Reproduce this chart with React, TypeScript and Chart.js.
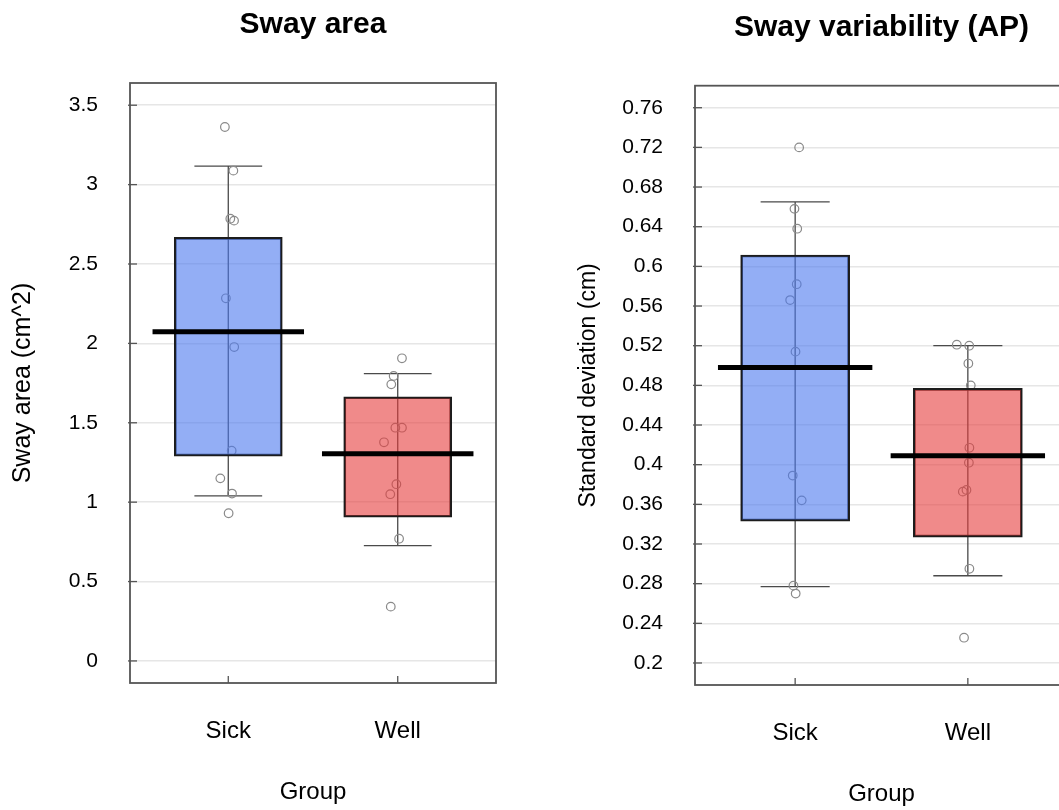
import React, { useEffect, useRef } from 'react';
import { Chart, registerables } from 'chart.js';

Chart.register(...registerables);

const FONT = '"Liberation Sans", Arial, Helvetica, sans-serif';

// ---------- data ----------
const groups = ['Sick', 'Well'];

// Left panel: Sway area
const areaTicks = [0, 0.5, 1, 1.5, 2, 2.5, 3, 3.5];
const areaTickLabels = ['0', '0.5', '1', '1.5', '2', '2.5', '3', '3.5'];
const areaBoxLow = [1.29, 0.905];
const areaBoxHigh = [2.668, 1.664];
const areaMean = [2.074, 1.305];
const areaWhiskerLow = [1.039, 0.726];
const areaWhiskerHigh = [3.117, 1.809];
const areaSick = [3.363, 3.088, 2.785, 2.773, 2.284, 1.977, 1.324, 1.15, 1.054, 0.93];
const areaSickJitter = [-0.02, 0.03, 0.012, 0.034, -0.014, 0.035, 0.02, -0.047, 0.022, 0.002];
const areaWell = [1.906, 1.795, 1.742, 1.469, 1.469, 1.377, 1.113, 1.05, 0.77, 0.342];
const areaWellJitter = [0.025, -0.024, -0.038, -0.014, 0.025, -0.081, -0.008, -0.044, 0.008, -0.041];

// Right panel: Sway variability (AP)
const sdTicks = [0.2, 0.24, 0.28, 0.32, 0.36, 0.4, 0.44, 0.48, 0.52, 0.56, 0.6, 0.64, 0.68, 0.72, 0.76];
const sdTickLabels = ['0.2', '0.24', '0.28', '0.32', '0.36', '0.4', '0.44', '0.48', '0.52', '0.56', '0.6', '0.64', '0.68', '0.72', '0.76'];
const sdBoxLow = [0.343, 0.327];
const sdBoxHigh = [0.6115, 0.477];
const sdMean = [0.498, 0.409];
const sdWhiskerLow = [0.277, 0.288];
const sdWhiskerHigh = [0.665, 0.52];
const sdSick = [0.72, 0.658, 0.638, 0.582, 0.566, 0.514, 0.389, 0.364, 0.278, 0.27];
const sdSickJitter = [0.023, -0.004, 0.012, 0.009, -0.029, 0.002, -0.014, 0.038, -0.01, 0.003];
const sdWell = [0.521, 0.52, 0.502, 0.48, 0.417, 0.402, 0.3745, 0.3728, 0.295, 0.2255];
const sdWellJitter = [-0.064, 0.008, 0.003, 0.017, 0.009, 0.006, -0.008, -0.029, 0.009, -0.022];

// ---------- styling ----------
const BOX_COLORS = ['rgba(75,120,238,0.6)', 'rgba(230,60,60,0.6)'];
const MEAN_HALF = 0.447;
const CAP_HALF = 0.2;

type Panel = {
  title: string;
  yTitle: string;
  yMin: number;
  yMax: number;
  ticks: number[];
  tickLabels: string[];
  boxLow: number[];
  boxHigh: number[];
  mean: number[];
  wLow: number[];
  wHigh: number[];
  points: number[][];
  jitter: number[][];
  canvasW: number;
  yAxisWidth: number;
  rightPad: number;
  titlePadTop: number;
  titlePadBottom: number;
  xAxisHeight: number;
  yTitleSize: number;
  yTitlePad: number;
  xTickPad: number;
  xTitlePad: number;
  barThickness: number;
};

const panels: Panel[] = [
  {
    title: 'Sway area',
    yTitle: 'Sway area (cm^2)',
    yMin: -0.139,
    yMax: 3.64,
    ticks: areaTicks,
    tickLabels: areaTickLabels,
    boxLow: areaBoxLow,
    boxHigh: areaBoxHigh,
    mean: areaMean,
    wLow: areaWhiskerLow,
    wHigh: areaWhiskerHigh,
    points: [areaSick, areaWell],
    jitter: [areaSickJitter, areaWellJitter],
    canvasW: 530,
    yAxisWidth: 130,
    rightPad: 34,
    titlePadTop: 7,
    titlePadBottom: 40,
    xAxisHeight: 127,
    yTitleSize: 25,
    yTitlePad: 8,
    xTickPad: 26,
    xTitlePad: 3,
    barThickness: 108,
  },
  {
    title: 'Sway variability (AP)',
    yTitle: 'Standard deviation (cm)',
    yMin: 0.1778,
    yMax: 0.7822,
    ticks: sdTicks,
    tickLabels: sdTickLabels,
    boxLow: sdBoxLow,
    boxHigh: sdBoxHigh,
    mean: sdMean,
    wLow: sdWhiskerLow,
    wHigh: sdWhiskerHigh,
    points: [sdSick, sdWell],
    jitter: [sdSickJitter, sdWellJitter],
    canvasW: 560,
    yAxisWidth: 155,
    rightPad: 32,
    titlePadTop: 10,
    titlePadBottom: 39.7,
    xAxisHeight: 125,
    yTitleSize: 23,
    yTitlePad: 35.2,
    xTickPad: 26,
    xTitlePad: 1.1,
    barThickness: 109,
  },
];

function makePlugin(p: Panel) {
  return {
    id: 'boxDecor',
    beforeDatasetsDraw(chart: any) {
      const { ctx, scales } = chart;
      const x = scales.x;
      const y = scales.y;
      ctx.save();
      ctx.strokeStyle = '#4a4a4a';
      ctx.lineWidth = 1.3;
      p.wLow.forEach((lo, i) => {
        const c = i + 1;
        const cx = x.getPixelForValue(c);
        const xl = x.getPixelForValue(c - CAP_HALF);
        const xr = x.getPixelForValue(c + CAP_HALF);
        const yl = y.getPixelForValue(lo);
        const yh = y.getPixelForValue(p.wHigh[i]);
        ctx.beginPath();
        ctx.moveTo(cx, yl);
        ctx.lineTo(cx, yh);
        ctx.moveTo(xl, yl);
        ctx.lineTo(xr, yl);
        ctx.moveTo(xl, yh);
        ctx.lineTo(xr, yh);
        ctx.stroke();
      });
      ctx.restore();
    },
    afterDatasetsDraw(chart: any) {
      const { ctx, scales, chartArea } = chart;
      const x = scales.x;
      const y = scales.y;
      ctx.save();
      // mean lines
      ctx.strokeStyle = '#000';
      ctx.lineWidth = 5;
      p.mean.forEach((m, i) => {
        const c = i + 1;
        const yy = y.getPixelForValue(m);
        ctx.beginPath();
        ctx.moveTo(x.getPixelForValue(c - MEAN_HALF), yy);
        ctx.lineTo(x.getPixelForValue(c + MEAN_HALF), yy);
        ctx.stroke();
      });
      // frame
      ctx.strokeStyle = '#555';
      ctx.lineWidth = 1.8;
      ctx.strokeRect(chartArea.left, chartArea.top, chartArea.right - chartArea.left, chartArea.bottom - chartArea.top);
      // y tick marks
      ctx.lineWidth = 1.3;
      p.ticks.forEach((t) => {
        const yy = y.getPixelForValue(t);
        ctx.beginPath();
        ctx.moveTo(chartArea.left - 2, yy);
        ctx.lineTo(chartArea.left + 7, yy);
        ctx.stroke();
      });
      // x tick marks
      groups.forEach((_, i) => {
        const xx = x.getPixelForValue(i + 1);
        ctx.beginPath();
        ctx.moveTo(xx, chartArea.bottom);
        ctx.lineTo(xx, chartArea.bottom - 7);
        ctx.stroke();
      });
      ctx.restore();
    },
  };
}

function PanelChart({ p, left }: { p: Panel; left: number }) {
  const ref = useRef<HTMLCanvasElement | null>(null);
  useEffect(() => {
    if (!ref.current) return;
    const scatterSets = p.points.map((vals, gi) => ({
      type: 'scatter' as const,
      label: groups[gi] + ' points',
      data: vals.map((v, k) => ({ x: gi + 1 + p.jitter[gi][k], y: v })),
      pointRadius: 4.3,
      pointBorderWidth: 1.2,
      pointBorderColor: '#8a8a8a',
      pointBackgroundColor: 'rgba(0,0,0,0)',
      showLine: false,
      order: 2,
    }));
    const barSet = {
      type: 'bar' as const,
      label: 'IQR',
      data: groups.map((_, gi) => ({ x: gi + 1, y: [p.boxLow[gi], p.boxHigh[gi]] })),
      backgroundColor: BOX_COLORS,
      borderColor: '#1c1c1c',
      borderWidth: 2,
      borderSkipped: false,
      barThickness: p.barThickness,
      order: 0,
    };
    const chart = new Chart(ref.current, {
      type: 'scatter',
      data: { datasets: [barSet as any, ...scatterSets] },
      plugins: [makePlugin(p)],
      options: {
        animation: false,
        responsive: false,
        maintainAspectRatio: false,
        events: [],
        layout: { padding: { left: 0, right: p.rightPad, top: 0, bottom: 0 } },
        plugins: {
          legend: { display: false },
          tooltip: { enabled: false },
          title: {
            display: true,
            text: p.title,
            fullSize: false,
            color: '#000',
            font: { family: FONT, size: 30, weight: 'bold' },
            padding: { top: p.titlePadTop, bottom: p.titlePadBottom },
          },
        },
        scales: {
          x: {
            type: 'linear',
            min: 0.42,
            max: 2.58,
            offset: false,
            grid: { display: false, offset: false },
            border: { display: false },
            afterBuildTicks: (s: any) => {
              s.ticks = groups.map((_, i) => ({ value: i + 1 }));
            },
            afterFit: (s: any) => {
              s.height = p.xAxisHeight;
            },
            ticks: {
              padding: p.xTickPad,
              color: '#000',
              font: { family: FONT, size: 24 },
              maxRotation: 0,
              callback: (v: any) => groups[Math.round(Number(v)) - 1],
            },
            title: {
              display: true,
              text: 'Group',
              color: '#000',
              font: { family: FONT, size: 24 },
              padding: { top: 0, bottom: p.xTitlePad },
            },
          },
          y: {
            type: 'linear',
            min: p.yMin,
            max: p.yMax,
            afterBuildTicks: (s: any) => {
              s.ticks = p.ticks.map((v) => ({ value: v }));
            },
            afterFit: (s: any) => {
              s.width = p.yAxisWidth;
            },
            grid: { color: '#e6e6e6', lineWidth: 1.5, drawTicks: false },
            border: { display: false },
            ticks: {
              padding: 32,
              color: '#000',
              font: { family: FONT, size: 21 },
              callback: (_v: any, i: number) => p.tickLabels[i],
            },
            title: {
              display: true,
              text: p.yTitle,
              color: '#000',
              font: { family: FONT, size: p.yTitleSize },
              padding: { top: p.yTitlePad, bottom: 0 },
            },
          },
        },
      } as any,
    });
    return () => chart.destroy();
  }, [p]);
  return (
    <canvas
      ref={ref}
      width={p.canvasW}
      height={810}
      style={{ position: 'absolute', left, top: 0, width: p.canvasW, height: 810 }}
    />
  );
}

export default function App() {
  return (
    <div
      style={{
        position: 'fixed',
        left: 0,
        top: 0,
        width: 1059,
        height: 810,
        overflow: 'hidden',
        background: '#fff',
      }}
    >
      <PanelChart p={panels[0]} left={0} />
      <PanelChart p={panels[1]} left={540} />
    </div>
  );
}
